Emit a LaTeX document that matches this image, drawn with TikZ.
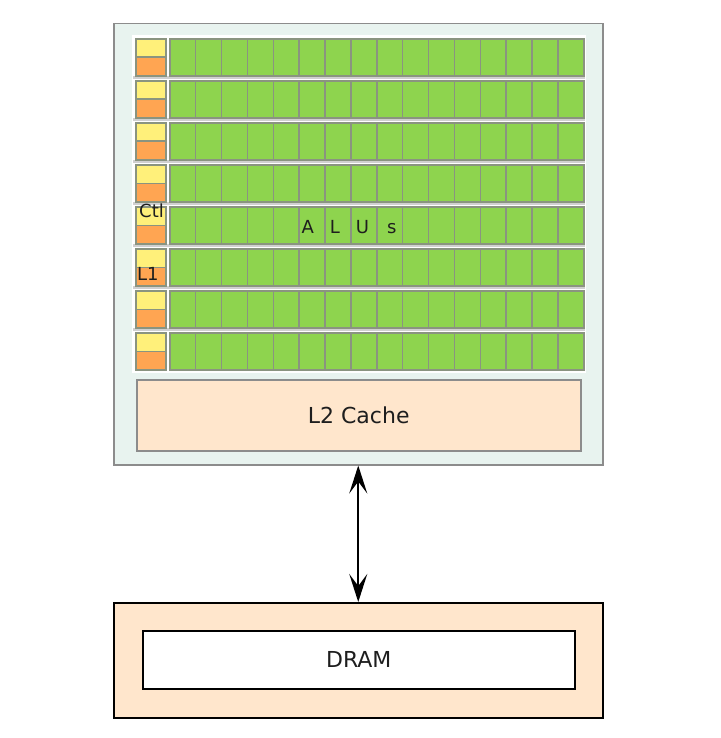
\documentclass[tikz,border=0pt]{standalone}
\usepackage{fontspec}
\setmainfont{DejaVu Sans}
\usetikzlibrary{arrows.meta}
\definecolor{gpubg}{HTML}{E8F3EF}
\definecolor{boxgray}{HTML}{8C8C8C}
\definecolor{cellgray}{HTML}{8A9480}
\definecolor{alugreen}{HTML}{8ED44E}
\definecolor{ctlyellow}{HTML}{FFF07A}
\definecolor{l1orange}{HTML}{FFA552}
\definecolor{cachefill}{HTML}{FFE6CC}
\definecolor{gapgray}{HTML}{D0D0D0}
\definecolor{inkcol}{HTML}{1E1E1E}
\begin{document}
\begin{tikzpicture}[x=1pt,y=-1pt,
  >={Stealth[length=28pt,width=18pt,inset=12pt]},
  cellbox/.style={draw=cellgray, line width=1.6pt, fill=alugreen, minimum width=25.9pt, minimum height=37pt, inner sep=0pt, anchor=north west},
  halfbox/.style={draw=cellgray, line width=1.6pt, minimum width=30pt, minimum height=18.5pt, inner sep=0pt, anchor=north west},
  lbl/.style={font=\fontsize{18}{20}\selectfont, text=inkcol, inner sep=0pt},
  biglbl/.style={font=\fontsize{22}{25}\selectfont, text=inkcol, inner sep=0pt}]
\useasboundingbox (0,0) rectangle (720,738);
\node[draw=boxgray, line width=1.5pt, fill=gpubg, minimum width=489pt, minimum height=441pt, anchor=north west, inner sep=0pt] (gpu) at (113,23) {};
\fill[white] (132,35) rectangle (586,373);
\foreach \r in {1,...,7}{
  \draw[gapgray, line width=2.5pt] (133,{38+42*\r-2.5}) -- (585,{38+42*\r-2.5});
}
\foreach \r in {0,...,7}{
  \node[halfbox, fill=ctlyellow] (ctl-\r) at (135,{38+42*\r}) {};
  \node[halfbox, fill=l1orange] (l1-\r) at (135,{56.5+42*\r}) {};
  \foreach \c in {0,...,15}{
    \node[cellbox] (alu-\r-\c) at ({169+25.875*\c},{38+42*\r}) {};
  }
}
\node[lbl, anchor=west] (ctltxt) at (139,211) {Ctl};
\node[lbl, anchor=west] (l1txt) at (137,274) {L1};
\node[lbl] (alutxt) at (349,227) {A\hspace{16pt}L\hspace{16pt}U\hspace{18pt}s};
\node[draw=boxgray, line width=1.5pt, fill=cachefill, minimum width=444pt, minimum height=71pt, anchor=north west, inner sep=0pt] (l2) at (136,379) {};
\node[biglbl] (l2txt) at (l2.center) {L2 Cache};
\node[draw=black, line width=1.5pt, fill=cachefill, minimum width=489pt, minimum height=115pt, anchor=north west, inner sep=0pt] (dram) at (113,602) {};
\node[draw=black, line width=1.5pt, fill=white, minimum width=432pt, minimum height=58pt, anchor=north west, inner sep=0pt] (draminner) at (142,630) {};
\node[biglbl] (dramtxt) at (draminner.center) {DRAM};
\draw[line width=1.8pt, <->] (gpu.south) -- (dram.north);
\end{tikzpicture}
\end{document}
